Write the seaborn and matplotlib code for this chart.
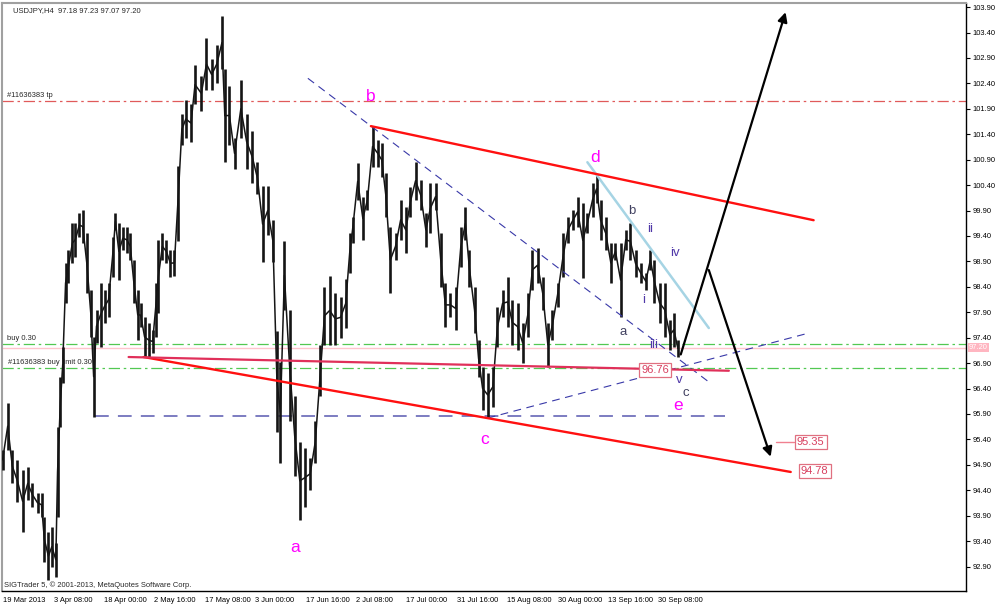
import matplotlib
matplotlib.use('Agg')
import matplotlib.pyplot as plt
import matplotlib.transforms as mtransforms
import seaborn as sns

# ---------------- data ----------------
bar_time = [0, 9, 17, 26, 35, 44, 52, 61, 68, 73, 80, 86, 93, 96, 101, 105, 110, 115, 122, 127,
            134, 140, 147, 154, 159, 164, 171, 178, 185, 192, 197, 203, 210, 217, 223, 229, 236, 241, 248, 255,
            262, 267, 272, 279, 286, 293, 300, 306, 313, 320, 329, 336, 347, 356, 365, 374, 383, 388, 396, 405,
            416, 426, 436, 445, 454, 463, 472, 479, 485, 492, 501, 510, 519, 528, 537, 546, 555, 562, 571, 581,
            590, 599, 606, 611, 620, 629, 637, 646, 655, 662, 669, 677, 686, 695, 704, 712, 721, 730, 739, 747,
            756, 765, 773, 782, 791, 800, 808, 815, 824, 831, 838, 847, 856, 864, 873, 882, 890, 899, 908, 917,
            925, 934, 943, 952, 960, 969, 979, 987, 996, 1004, 1013, 1021, 1030, 1037, 1044, 1053, 1062, 1070, 1079, 1088,
            1096, 1105, 1114, 1123, 1131, 1138, 1147, 1156, 1165, 1172, 1179]
bar_high = [95.20, 96.12, 95.20, 95.00, 94.80, 94.86, 94.55, 94.35, 94.35, 93.88, 93.57, 93.68, 93.37, 95.65, 96.63, 97.22, 98.87, 99.13, 99.66, 99.66,
            99.85, 99.91, 99.46, 98.34, 97.42, 97.95, 98.48, 98.34, 98.48, 99.38, 99.85, 99.66, 99.58, 99.58, 99.46, 98.93, 98.34, 98.08, 97.81, 97.69,
            97.55, 98.48, 99.32, 99.46, 99.32, 99.13, 99.13, 100.78, 101.80, 102.07, 101.99, 102.76, 102.55, 103.29, 102.88, 103.15, 103.72, 102.68, 102.35, 101.33,
            102.47, 101.80, 101.46, 100.85, 100.38, 100.38, 99.71, 97.54, 96.93, 99.30, 97.95, 96.26, 95.35, 95.23, 95.04, 95.77, 97.26, 98.40, 98.61, 98.28,
            98.20, 98.55, 99.46, 99.78, 100.84, 100.17, 100.31, 101.56, 101.29, 101.23, 100.64, 99.58, 99.46, 100.11, 99.97, 100.37, 100.86, 100.50, 99.85, 100.44,
            100.44, 99.46, 98.48, 98.28, 98.40, 99.58, 99.97, 99.13, 98.40, 97.36, 96.83, 96.71, 96.83, 98.01, 98.34, 98.60, 98.14, 98.08, 97.69, 98.28,
            99.13, 99.17, 98.60, 97.69, 97.95, 98.48, 99.46, 99.78, 99.91, 100.17, 100.05, 99.85, 100.44, 100.60, 100.11, 99.78, 99.26, 99.26, 99.26, 99.52,
            99.66, 99.13, 98.87, 98.68, 99.13, 98.93, 98.48, 98.48, 97.75, 97.89, 97.36]
bar_low = [94.80, 95.20, 94.55, 94.16, 93.57, 94.21, 94.08, 93.96, 93.88, 92.98, 92.64, 92.90, 92.70, 93.88, 95.65, 96.51, 98.08, 98.48, 98.87, 98.99,
           99.38, 99.26, 98.28, 97.42, 95.85, 97.30, 97.22, 97.69, 97.81, 98.60, 99.52, 98.54, 99.13, 99.07, 98.93, 98.08, 97.36, 97.61, 97.02, 97.02,
           97.10, 97.42, 97.89, 98.93, 98.87, 98.60, 98.61, 99.30, 101.19, 101.33, 101.25, 101.99, 101.86, 102.27, 102.27, 102.41, 102.68, 100.85, 101.19, 100.72,
           101.33, 100.72, 100.44, 100.22, 98.89, 99.42, 98.89, 95.55, 94.94, 97.95, 95.77, 94.68, 93.82, 94.07, 94.41, 94.94, 96.26, 97.26, 97.26, 97.26,
           97.40, 97.59, 98.67, 99.26, 100.11, 99.32, 99.91, 100.76, 100.76, 100.56, 99.78, 98.28, 98.93, 99.32, 99.07, 99.78, 100.11, 99.91, 99.19, 99.46,
           99.91, 98.40, 97.61, 97.81, 97.55, 98.79, 99.32, 98.40, 97.49, 96.63, 95.98, 95.84, 96.04, 97.22, 97.81, 97.61, 97.26, 97.16, 96.91, 97.42,
           98.34, 98.48, 97.95, 96.83, 97.36, 98.01, 98.60, 99.26, 99.52, 99.58, 98.58, 99.46, 99.78, 100.05, 99.32, 99.13, 98.48, 98.93, 97.81, 99.13,
           98.93, 98.60, 98.48, 98.34, 98.73, 98.08, 97.69, 97.42, 97.16, 97.22, 97.02]

x_tick_pos = [1, 89, 177, 265, 353, 441, 529, 617, 705, 793, 881, 969, 1057, 1145]
x_tick_labels = ['19 Mar 2013', '3 Apr 08:00', '18 Apr 00:00', '2 May 16:00', '17 May 08:00',
                 '3 Jun 00:00', '17 Jun 16:00', '2 Jul 08:00', '17 Jul 00:00', '31 Jul 16:00',
                 '15 Aug 08:00', '30 Aug 00:00', '13 Sep 16:00', '30 Sep 08:00']
y_tick_labels = ['103.90', '103.40', '102.90', '102.40', '101.90', '101.40', '100.90', '100.40',
                 '99.90', '99.40', '98.90', '98.40', '97.90', '97.40', '96.90', '96.40', '95.90',
                 '95.40', '94.90', '94.40', '93.90', '93.40', '92.90']

# order levels
tp_level = 102.05
buy_level = 97.28
buy_limit_level = 96.80
bid_level = 97.20

# trend lines: (time0, price0, time1, price1)
upper_red = (643, 101.56, 1416, 99.71)
lower_red = (246, 97.02, 1376, 94.76)
flat_crimson = (220, 97.02, 1268, 96.75)
blue_down = (533, 102.50, 1233, 96.53)
blue_up = (847, 95.82, 1407, 97.49)
blue_horiz = (161, 95.86, 1262, 95.86)
light_blue = (1021, 100.85, 1233, 97.59)
arrow_up = (1184, 97.07, 1367, 103.80)
arrow_down = (1233, 98.73, 1341, 95.06)

wave_big = [('a', 510, 93.27), ('b', 643, 102.15), ('c', 842, 95.39), ('d', 1035, 100.95), ('e', 1180, 96.06)]
wave_small_dark = [('b', 1098, 99.89), ('a', 1084, 97.51), ('c', 1192, 96.31)]
wave_small_purple = [('ii', 1131, 99.54), ('iv', 1173, 99.07), ('i', 1119, 98.14), ('iii', 1137, 97.26), ('v', 1182, 96.57)]

# ---------------- drawing ----------------
sns.set_style('white')
plt.rcParams['font.family'] = ['Liberation Sans', 'DejaVu Sans']

fig = plt.figure(figsize=(10, 6.08), dpi=100)
ax = fig.add_axes([0.002, 0.028, 0.964, 0.967])
ax.set_xlim(-1, 1682)
ax.set_ylim(92.42, 103.98)

# order lines
dashdot = (0, (9, 3, 2, 3))
ax.axhline(tp_level, color='#e05a5a', lw=0.9, ls=dashdot, zorder=1)
ax.axhline(buy_level, color='#52c852', lw=0.9, ls=dashdot, zorder=1)
ax.axhline(buy_limit_level, color='#52c852', lw=0.9, ls=dashdot, zorder=1)
ax.axhline(bid_level, color='#ffc4cc', lw=1.0, zorder=1)

# price bars
mid = [(h + l) / 2 for h, l in zip(bar_high, bar_low)]
ax.vlines(bar_time, bar_low, bar_high, color='#151515', lw=1.9, zorder=3)
sns.lineplot(x=bar_time, y=mid, ax=ax, color='#151515', lw=1.1, zorder=3, sort=False)


def seg(line, **kw):
    x0, y0, x1, y1 = line
    sns.lineplot(x=[x0, x1], y=[y0, y1], ax=ax, sort=False, **kw)


seg(blue_horiz, color='#5858b0', lw=1.1, linestyle=(0, (9, 6)), zorder=2)
seg(blue_down, color='#3838a8', lw=0.8, linestyle=(0, (7, 5)), zorder=4)
seg(blue_up, color='#3838a8', lw=0.8, linestyle=(0, (7, 5)), zorder=4)
seg(light_blue, color='#a6d4e4', lw=1.8, zorder=4)
seg(upper_red, color='#ff1010', lw=1.7, zorder=5)
seg(lower_red, color='#ff1010', lw=1.7, zorder=5)
seg(flat_crimson, color='#e0305a', lw=1.6, zorder=5)

for a in (arrow_up, arrow_down):
    ax.annotate('', xy=(a[2], a[3]), xytext=(a[0], a[1]),
                arrowprops=dict(arrowstyle='-|>', color='black', lw=1.6, mutation_scale=14,
                                shrinkA=0, shrinkB=0), zorder=6)

# target boxes
box = dict(boxstyle='square,pad=0.18', fc='white', ec='#e07080', lw=0.9)
ax.text(1139, 96.76, '96.76', fontsize=8, color='#d84060', ha='center', va='center', bbox=box, zorder=7)
sns.lineplot(x=[1350, 1381], y=[95.35, 95.35], ax=ax, color='#f08090', lw=1.0, sort=False)
ax.text(1411, 95.35, '95.35', fontsize=8, color='#d84060', ha='center', va='center', bbox=box, zorder=7)
ax.text(1418, 94.78, '94.78', fontsize=8, color='#d84060', ha='center', va='center', bbox=box, zorder=7)

# wave labels
for t, x, y in wave_big:
    ax.text(x, y, t, fontsize=12.5, color='#ff00ff', ha='center', va='center', zorder=7)
for t, x, y in wave_small_dark:
    ax.text(x, y, t, fontsize=9.5, color='#404060', ha='center', va='center', zorder=7)
for t, x, y in wave_small_purple:
    ax.text(x, y, t, fontsize=9.5, color='#5038a8', ha='center', va='center', zorder=7)

# order texts
ax.text(7, tp_level + 0.04, '#11636383 tp', fontsize=5.4, va='bottom', ha='left')
ax.text(7, buy_level + 0.04, 'buy 0.30', fontsize=5.4, va='bottom', ha='left')
ax.text(9, buy_limit_level + 0.05, '#11636383 buy limit 0.30', fontsize=5.4, va='bottom', ha='left')

fig.text(0.013, 1 - 12 / 608, 'USDJPY,H4  97.18 97.23 97.07 97.20', fontsize=5.5, ha='left', va='baseline')
fig.text(0.004, 1 - 587 / 608, 'SIGTrader 5, \u00a9 2001-2013, MetaQuotes Software Corp.', fontsize=5.4,
         ha='left', va='baseline')

# axes
ax.set_xticks(x_tick_pos)
ax.set_xticklabels(x_tick_labels)
for lab in ax.get_xticklabels():
    lab.set_horizontalalignment('left')
ax.set_yticks([float(v) for v in y_tick_labels])
ax.set_yticklabels(y_tick_labels)
ax.yaxis.tick_right()
ax.tick_params(axis='both', direction='out', length=3, width=0.8, labelsize=5.4, pad=1.5, colors='black')
ax.tick_params(axis='x', pad=1)
ax.set_xlabel('')
ax.set_ylabel('')

trans = mtransforms.blended_transform_factory(ax.transAxes, ax.transData)
ax.text(1.003, bid_level, '97.20', transform=trans, fontsize=5.4, color='white', ha='left', va='center',
        bbox=dict(boxstyle='square,pad=0.15', fc='#ffb6c1', ec='none'), clip_on=False)

for s in ('top', 'left'):
    ax.spines[s].set_color('#a0a0a0')
    ax.spines[s].set_linewidth(1.5)
for s in ('bottom', 'right'):
    ax.spines[s].set_color('black')
    ax.spines[s].set_linewidth(1.0)

fig.savefig('out.png', dpi=100, facecolor='white')
